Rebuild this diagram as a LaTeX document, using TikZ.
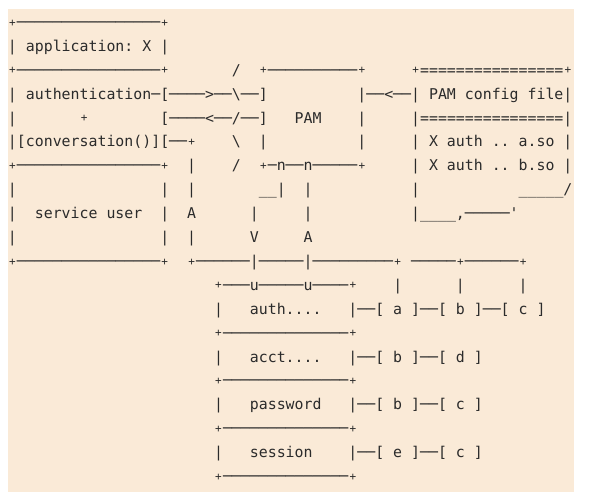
\documentclass[tikz,border=0pt]{standalone}
\usepackage{fontspec}
\newfontfamily\monofam{DejaVu Sans Mono}
\definecolor{bgbeige}{HTML}{FAEAD7}
\definecolor{inkgray}{HTML}{2B2B2B}
\newlength\cw
\setlength\cw{8.96pt}
\newcommand\sk[1]{\hspace*{#1\cw}}
\newcommand\pp{\makebox[\cw][c]{\raisebox{1.45pt}{\fontsize{11}{11}\selectfont +}}}
\newcommand\bs{\textbackslash{}}
\newcommand\us{\textunderscore{}}
\newcommand\asciirow[2]{\node[rowtxt] (r#1) at (8pt,{(469.5-23.9*(#1-1))*1pt}) {#2};}
\tikzset{
  rowtxt/.style={anchor=base west, inner sep=0pt, outer sep=0pt,
    text=inkgray, font=\monofam\fontsize{14.88}{16}\selectfont\frenchspacing}
}
\begin{document}
\begin{tikzpicture}
\useasboundingbox (0,0) rectangle (592pt,497pt);
\fill[bgbeige] (8pt,5pt) rectangle (574pt,488pt);
\asciirow{1}{\pp────────────────\pp}
\asciirow{2}{|\sk{1}application: X\sk{1}|}
\asciirow{3}{\pp────────────────\pp\sk{7}/\sk{2}\pp──────────\pp\sk{5}\pp================\pp}
\asciirow{4}{|\sk{1}authentication─[────>──\bs──]\sk{10}|──<──|\sk{1}PAM config file|}
\asciirow{5}{|\sk{7}\pp\sk{8}[────<──/──]\sk{3}PAM\sk{4}|\sk{5}|================|}
\asciirow{6}{|[conversation()][──\pp\sk{4}\bs\sk{2}|\sk{10}|\sk{5}|\sk{1}X auth .. a.so\sk{1}|}
\asciirow{7}{\pp────────────────\pp\sk{2}|\sk{4}/\sk{2}\pp─n──n─────\pp\sk{5}|\sk{1}X auth .. b.so\sk{1}|}
\asciirow{8}{|\sk{16}|\sk{2}|\sk{7}\us\us|\sk{2}|\sk{11}|\sk{11}\us\us\us\us\us/}
\asciirow{9}{|\sk{2}service user\sk{2}|\sk{2}A\sk{6}|\sk{5}|\sk{11}|\us\us\us\us,─────'}
\asciirow{10}{|\sk{16}|\sk{2}|\sk{6}V\sk{5}A}
\asciirow{11}{\pp────────────────\pp\sk{2}\pp──────|─────|─────────\pp\sk{1}─────\pp──────\pp}
\asciirow{12}{\sk{23}\pp───u─────u────\pp\sk{4}|\sk{6}|\sk{6}|}
\asciirow{13}{\sk{23}|\sk{3}auth....\sk{3}|──[ a ]──[ b ]──[ c ]}
\asciirow{14}{\sk{23}\pp──────────────\pp}
\asciirow{15}{\sk{23}|\sk{3}acct....\sk{3}|──[ b ]──[ d ]}
\asciirow{16}{\sk{23}\pp──────────────\pp}
\asciirow{17}{\sk{23}|\sk{3}password\sk{3}|──[ b ]──[ c ]}
\asciirow{18}{\sk{23}\pp──────────────\pp}
\asciirow{19}{\sk{23}|\sk{3}session\sk{4}|──[ e ]──[ c ]}
\asciirow{20}{\sk{23}\pp──────────────\pp}
\end{tikzpicture}
\end{document}
